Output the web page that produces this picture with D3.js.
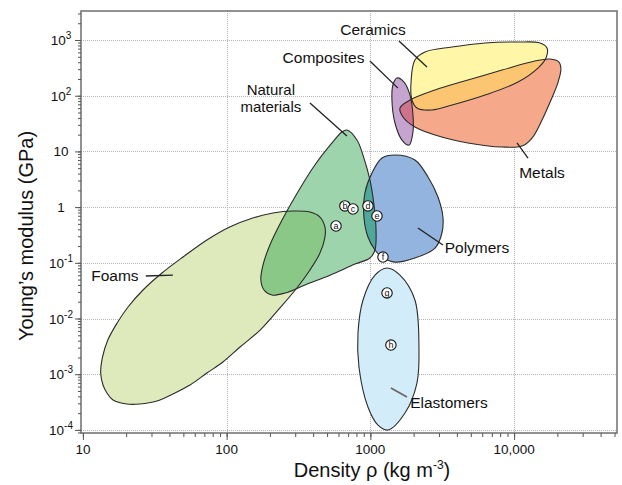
<!DOCTYPE html>
<html>
<head>
<meta charset="utf-8">
<script src="https://cdn.jsdelivr.net/npm/d3@7"></script>
<style>
body { margin: 0; background: #fff; }
text { font-family: "Liberation Sans", Arial, sans-serif; fill: #111; }
</style>
</head>
<body>
<div id="chart"></div>
<script>
// outlines of the material classes, [density kg/m3, Young's modulus GPa]
var foams = [[13.3,1.05e-3],[13.7,2.04e-3],[14.9,4.11e-3],[17.3,8.3e-3],[20.6,0.0161],[26.2,0.0325],[35.5,0.0656],[49.7,0.127],[72.9,0.257],[105,0.44],[152,0.637],[210,0.783],[289,0.85],[380,0.816],[446,0.664],[483,0.44],[483,0.290],[446,0.15],[380,0.0743],[308,0.0353],[235,0.0155],[171,6.2e-3],[124,3.08e-3],[94.2,1.66e-3],[72.9,1.05e-3],[55.6,6.4e-4],[42.3,4.42e-4],[32.7,3.3e-4],[24.9,2.92e-4],[20.2,2.92e-4],[16.2,3.44e-4],[14.7,4.6e-4],[13.8,6.4e-4]];
var natural = [[687,24.2],[807,16.0],[902,7.6],[993,3.07],[1060,1.09],[1095,0.388],[1077,0.170],[993,0.122],[782,0.095],[524,0.060],[351,0.040],[255,0.0287],[207,0.0264],[182,0.0325],[173,0.049],[179,0.091],[200,0.209],[243,0.586],[313,1.87],[411,5.7],[541,14.2],[634,22.3]];
var polymers = [[1483,8.6],[2042,7.0],[2518,3.47],[2953,1.52],[3198,0.664],[3148,0.343],[2818,0.184],[2042,0.122],[1483,0.103],[1205,0.127],[1077,0.170],[962,0.290],[902,0.664],[916,1.79],[1026,4.1],[1205,7.6]];
var elastomers = [[1306,0.0807],[1607,0.060],[2042,0.0215],[2178,3.08e-3],[2109,6.95e-4],[1741,2.01e-4],[1325,9.96e-5],[1130,1.22e-4],[962,2.58e-4],[833,1.35e-3],[820,5.5e-3],[889,0.0215],[1077,0.060]];
var metals = [[1607,60.1],[1887,83.7],[2818,127],[4775,191],[8241,289],[13960,420],[17780,456],[20510,403],[21170,301],[20240,176],[18060,83.7],[15640,36.6],[13330,17.4],[11350,12.5],[8241,12.0],[4775,14.2],[2818,19.7],[2042,27.4],[1687,41.5]];
var ceramics = [[2042,438],[2399,610],[3698,749],[6281,884],[10640,920],[15130,884],[16940,718],[16680,475],[14650,314],[10640,176],[6281,103],[3698,68],[2685,55.4],[2109,60.1],[1947,83.7],[1917,169]];
var composites = [[1531,208],[1714,176],[1887,103],[1979,45],[1979,22.3],[1858,13.0],[1660,16.0],[1483,32.4],[1413,83.7],[1435,156]];

// individual materials a..h
var markerIds = ["a","b","c","d","e","f","g","h"];
var markerDensity = [577,665,757,962,1112,1224,1306,1390];
var markerModulus = [0.458,1.05,0.925,1.05,0.692,0.127,0.0287,3.34e-3];

// labels and their leader lines
var labelNames = ["Foams","Natural materials","Polymers","Elastomers","Metals","Ceramics","Composites"];
var labelDensity = [16.7,203,5520,3524,15640,1043,472];
var labelModulus = [0.060,94.8,0.192,3.17e-4,4.27,1514,495];
var leaderFrom = [[27.4,0.058],[380,74],[2143,0.421],[1390,5.65e-4],[10470,14.2],[1581,959],[993,420]];
var leaderTo = [[42.3,0.060],[687,18.9],[3198,0.209],[1799,3.9e-4],[12500,7.6],[2477,327],[1556,137]];

// axes
var densityDomain = [9.7, 52000];
var modulusDomain = [8.8e-5, 3320];
var xMajor = [10, 100, 1000, 10000];
var xMajorLabels = ["10", "100", "1000", "10,000"];
var yMajor = [1e-4, 1e-3, 1e-2, 1e-1, 1, 10, 100, 1000];
var yMajorBase = ["10", "10", "10", "10", "1", "10", "10", "10"];
var yMajorExp = ["-4", "-3", "-2", "-1", "", "", "2", "3"];

var width = 622, height = 485;
var box = { left: 81, right: 617, top: 11, bottom: 433 };

var svg = d3.select("#chart").append("svg").attr("width", width).attr("height", height);
svg.append("rect").attr("width", width).attr("height", height).attr("fill", "#fff");

var xScale = d3.scaleLog().domain(densityDomain).range([box.left, box.right]);
var yScale = d3.scaleLog().domain(modulusDomain).range([box.bottom, box.top]);

// grid
var grid = svg.append("g").attr("stroke", "#b4b4b4").attr("stroke-width", 1).attr("stroke-dasharray", "1,1");
grid.selectAll(".gx").data(xMajor.slice(1)).enter().append("line")
  .attr("x1", function(d) { return Math.round(xScale(d)) + 0.5; })
  .attr("x2", function(d) { return Math.round(xScale(d)) + 0.5; })
  .attr("y1", box.top).attr("y2", box.bottom);
grid.selectAll(".gy").data(yMajor).enter().append("line")
  .attr("y1", function(d) { return Math.round(yScale(d)) + 0.5; })
  .attr("y2", function(d) { return Math.round(yScale(d)) + 0.5; })
  .attr("x1", box.left).attr("x2", box.right);

// regions
var outline = d3.line()
  .x(function(d) { return xScale(d[0]); })
  .y(function(d) { return yScale(d[1]); })
  .curve(d3.curveCatmullRomClosed.alpha(0.5));

var regions = [foams, natural, polymers, elastomers, metals, ceramics, composites];
var regionIds = ["foams", "natural", "polymers", "elastomers", "metals", "ceramics", "composites"];
var fills = ["#dee9bc", "#9ed4ab", "#93b4de", "#d3ecf9", "#f5a98a", "#fff6a8", "#c6a4d0"];

var defs = svg.append("defs");
regions.forEach(function(r, i) {
  defs.append("clipPath").attr("id", "clip-" + regionIds[i]).append("path").attr("d", outline(r));
});

svg.append("g").selectAll("path").data(regions).enter().append("path")
  .attr("d", outline)
  .attr("fill", function(d, i) { return fills[i]; });

// overlapping parts get their own colour
var overlaps = [[natural, "foams", "#89c886"], [polymers, "natural", "#4fa89b"], [ceramics, "metals", "#fcc571"], [composites, "metals", "#cf738c"]];
svg.append("g").selectAll("path").data(overlaps).enter().append("path")
  .attr("d", function(d) { return outline(d[0]); })
  .attr("clip-path", function(d) { return "url(#clip-" + d[1] + ")"; })
  .attr("fill", function(d) { return d[2]; });

svg.append("g").selectAll("path").data(regions).enter().append("path")
  .attr("d", outline)
  .attr("fill", "none")
  .attr("stroke", "#2b2b2b")
  .attr("stroke-width", 1.1);

// leader lines
svg.append("g").selectAll("line").data(labelNames).enter().append("line")
  .attr("x1", function(d, i) { return xScale(leaderFrom[i][0]); })
  .attr("y1", function(d, i) { return yScale(leaderFrom[i][1]); })
  .attr("x2", function(d, i) { return xScale(leaderTo[i][0]); })
  .attr("y2", function(d, i) { return yScale(leaderTo[i][1]); })
  .attr("stroke", function(d) { return d === "Elastomers" ? "#666" : "#222"; })
  .attr("stroke-width", function(d) { return d === "Elastomers" ? 1.6 : 1.3; });

// labels
var lab = svg.append("g").selectAll("text").data(labelNames).enter().append("text")
  .attr("x", function(d, i) { return xScale(labelDensity[i]); })
  .attr("y", function(d, i) { return yScale(labelModulus[i]); })
  .attr("text-anchor", "middle")
  .attr("dominant-baseline", "central")
  .attr("font-size", "15.5px");
lab.each(function(d, i) {
  var t = d3.select(this);
  if (d === "Natural materials") {
    t.attr("font-size", "15px");
    t.append("tspan").attr("x", xScale(labelDensity[i])).attr("dy", "-8.5").text("Natural");
    t.append("tspan").attr("x", xScale(labelDensity[i])).attr("dy", "17").text("materials");
  } else {
    t.text(d);
  }
});

// markers
var mk = svg.append("g").selectAll("g").data(markerIds).enter().append("g")
  .attr("transform", function(d, i) {
    return "translate(" + xScale(markerDensity[i]) + "," + yScale(markerModulus[i]) + ")";
  });
mk.append("circle").attr("r", 5.2).attr("fill", "#fff").attr("stroke", "#111").attr("stroke-width", 1.1);
mk.append("text").attr("text-anchor", "middle").attr("dominant-baseline", "central")
  .attr("font-size", "9px").text(function(d) { return d; });

// frame
svg.append("rect")
  .attr("x", box.left).attr("y", box.top)
  .attr("width", box.right - box.left).attr("height", box.bottom - box.top)
  .attr("fill", "none").attr("stroke", "#6e6e6e").attr("stroke-width", 1.5);

// ticks
function tickAxis(axis, tr) {
  var g = svg.append("g").attr("transform", tr).call(axis);
  g.select(".domain").remove();
  g.selectAll(".tick line").attr("stroke", "#555");
  return g;
}
tickAxis(d3.axisLeft(yScale).tickValues(yScale.ticks()).tickSize(3).tickFormat(""), "translate(" + box.left + ",0)");
tickAxis(d3.axisLeft(yScale).tickValues(yMajor).tickSize(6).tickFormat(""), "translate(" + box.left + ",0)");
tickAxis(d3.axisBottom(xScale).tickValues(xScale.ticks()).tickSize(4).tickFormat(""), "translate(0," + box.bottom + ")");
tickAxis(d3.axisBottom(xScale).tickValues(xMajor).tickSize(7).tickFormat(""), "translate(0," + box.bottom + ")");

// tick labels
svg.append("g").selectAll("text").data(xMajor).enter().append("text")
  .attr("x", function(d) { return xScale(d); })
  .attr("y", 454)
  .attr("text-anchor", "middle")
  .attr("font-size", "13.5px")
  .text(function(d, i) { return xMajorLabels[i]; });

var yl = svg.append("g").selectAll("text").data(yMajor).enter().append("text")
  .attr("x", 61)
  .attr("y", function(d) { return yScale(d) + 5; })
  .attr("text-anchor", "middle")
  .attr("font-size", "13.5px");
yl.append("tspan").text(function(d, i) { return yMajorBase[i]; });
yl.append("tspan").attr("dy", -6).attr("font-size", "10px").text(function(d, i) { return yMajorExp[i]; });

// axis titles
var xt = svg.append("text").attr("x", 372).attr("y", 477).attr("text-anchor", "middle").attr("font-size", "20px");
xt.append("tspan").text("Density ρ (kg m");
xt.append("tspan").attr("dy", -8).attr("font-size", "12px").text("-3");
xt.append("tspan").attr("dy", 8).text(")");

svg.append("text")
  .attr("transform", "translate(33,236) rotate(-90)")
  .attr("text-anchor", "middle")
  .attr("font-size", "20px")
  .text("Young\u2019s modulus (GPa)");
</script>
</body>
</html>
